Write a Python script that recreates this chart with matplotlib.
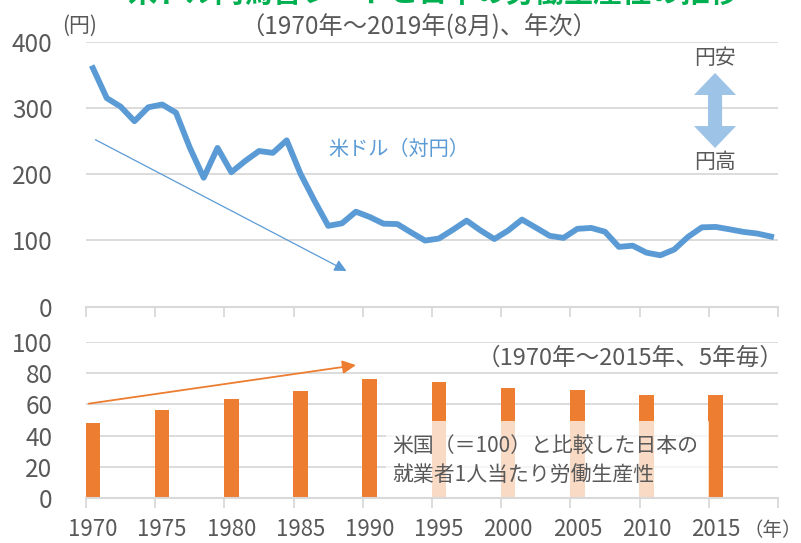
import numpy as np
import matplotlib.pyplot as plt
from matplotlib.patches import Polygon, Rectangle

plt.rcParams['font.family'] = ['Noto Sans CJK JP', 'DejaVu Sans']

# 米ドル（対円） 1970-2019
years = np.arange(1970, 2020)
usdjpy = [360, 314.8, 302, 280, 301, 305.2, 292.8, 240, 194.6, 239.7,
          203, 219.9, 235, 232.2, 251.1, 200.5, 160.1, 122, 125.9, 143.4,
          135.4, 125.3, 124.7, 111.9, 99.8, 102.9, 116, 129.9, 115.2, 102.1,
          114.9, 131.5, 119.4, 107, 103.8, 117.5, 118.9, 113.1, 90.3, 92.1,
          81.5, 77.6, 86.3, 105.4, 119.8, 120.4, 116.8, 112.9, 110.4, 105.8]

# 米国=100 とした日本の労働生産性 (5年毎)
prod_years = [1970, 1975, 1980, 1985, 1990, 1995, 2000, 2005, 2010, 2015]
productivity = [48.4, 56.5, 63.7, 68.7, 76.3, 74.2, 70.2, 69.1, 65.7, 65.7]

tick_years = [1970, 1975, 1980, 1985, 1990, 1995, 2000, 2005, 2010, 2015]

GRAY = '#595959'
GRID = '#d9d9d9'
BLUE = '#5b9bd5'
ORANGE = '#ed7d31'

fig = plt.figure(figsize=(8.01, 5.43), dpi=100)
ax1 = fig.add_axes([0.1074, 0.4352, 0.8639, 0.488])
ax2 = fig.add_axes([0.1074, 0.0823, 0.8639, 0.2884])


def px(x, y):
    return x / 801, 1 - y / 543


def style_axis(ax, ymax, ystep):
    ax.set_xlim(0, 50)
    ax.set_ylim(0, ymax)
    ax.set_yticks(np.arange(0, ymax + 1, ystep))
    ax.set_xticks(np.arange(0, 51, 5))
    ax.set_xticklabels([])
    for s in ['top', 'right', 'left']:
        ax.spines[s].set_visible(False)
    ax.spines['bottom'].set_color(GRID)
    ax.spines['bottom'].set_linewidth(1.5)
    ax.grid(axis='y', color=GRID, lw=1.3)
    ax.set_axisbelow(True)
    ax.tick_params(axis='y', length=0, pad=24, labelsize=17.5, labelcolor=GRAY)
    ax.tick_params(axis='x', which='major', length=7, width=1.3, color=GRID, direction='out')


# top: exchange rate
style_axis(ax1, 400, 100)
ax1.plot(years - 1970 + 0.5, usdjpy, color=BLUE, lw=4.2, solid_joinstyle='round', zorder=3)
ax1.text(17.5, 238, '米ドル（対円）', color=BLUE, fontsize=14.5, va='center', ha='left')
ax1.annotate('', xy=(19, 52), xytext=(0.5, 254),
             arrowprops=dict(arrowstyle='-|>', color=BLUE, lw=0.9, mutation_scale=18))

# 円安 / 円高 double arrow
xc = 45.45
hw, sw = 1.52, 0.51
arrow = [(xc, 352.8), (xc + hw, 319.6), (xc + sw, 319.6), (xc + sw, 272.7), (xc + hw, 272.7),
         (xc, 239.5), (xc - hw, 272.7), (xc - sw, 272.7), (xc - sw, 319.6), (xc - hw, 319.6)]
ax1.add_patch(Polygon(arrow, closed=True, color='#9dc3e6', lw=0, zorder=3))
ax1.text(xc, 375, '円安', color=GRAY, fontsize=15, ha='center', va='center')
ax1.text(xc, 218, '円高', color=GRAY, fontsize=15, ha='center', va='center')

# bottom: productivity
style_axis(ax2, 100, 20)
ax2.bar(np.array(prod_years) - 1970 + 0.5, productivity, width=1.05, color=ORANGE, zorder=2)
ax2.add_patch(Rectangle((21.7, 0.6), 23.3, 48.5, facecolor='white', alpha=0.72,
                        edgecolor='none', zorder=2.2))
ax2.text(22.1, 24, '米国（＝100）と比較した日本の\n就業者1人当たり労働生産性', color=GRAY,
         fontsize=15, ha='left', va='center', linespacing=1.5, zorder=4)
ax2.annotate('', xy=(19.7, 85.3), xytext=(0, 60.2),
             arrowprops=dict(arrowstyle='-|>', color=ORANGE, lw=1.3, mutation_scale=20))
ax2.set_xticks(np.array(tick_years) - 1970 + 0.5, minor=True)
ax2.set_xticklabels([str(y) for y in tick_years], minor=True)
ax2.tick_params(axis='x', which='minor', length=0, pad=14, labelsize=16, labelcolor=GRAY)
ax2.text(49.6, -20.5, '（年）', color=GRAY, fontsize=14, ha='center', va='center')

# header texts
fig.text(*px(80, 26), '(円)', color=GRAY, fontsize=15, ha='center', va='center')
fig.text(*px(419, 27), '（1970年～2019年(8月)、年次）', color=GRAY, fontsize=17.5,
         ha='center', va='center')
fig.text(*px(630, 358), '（1970年～2015年、5年毎）', color=GRAY, fontsize=17,
         ha='center', va='center')
fig.text(*px(433, 2), '米ドル円為替レートと日本の労働生産性の推移', color='#00b050',
         fontsize=21, fontweight='bold', ha='center', va='baseline')

fig.savefig('out.png', dpi=100)
